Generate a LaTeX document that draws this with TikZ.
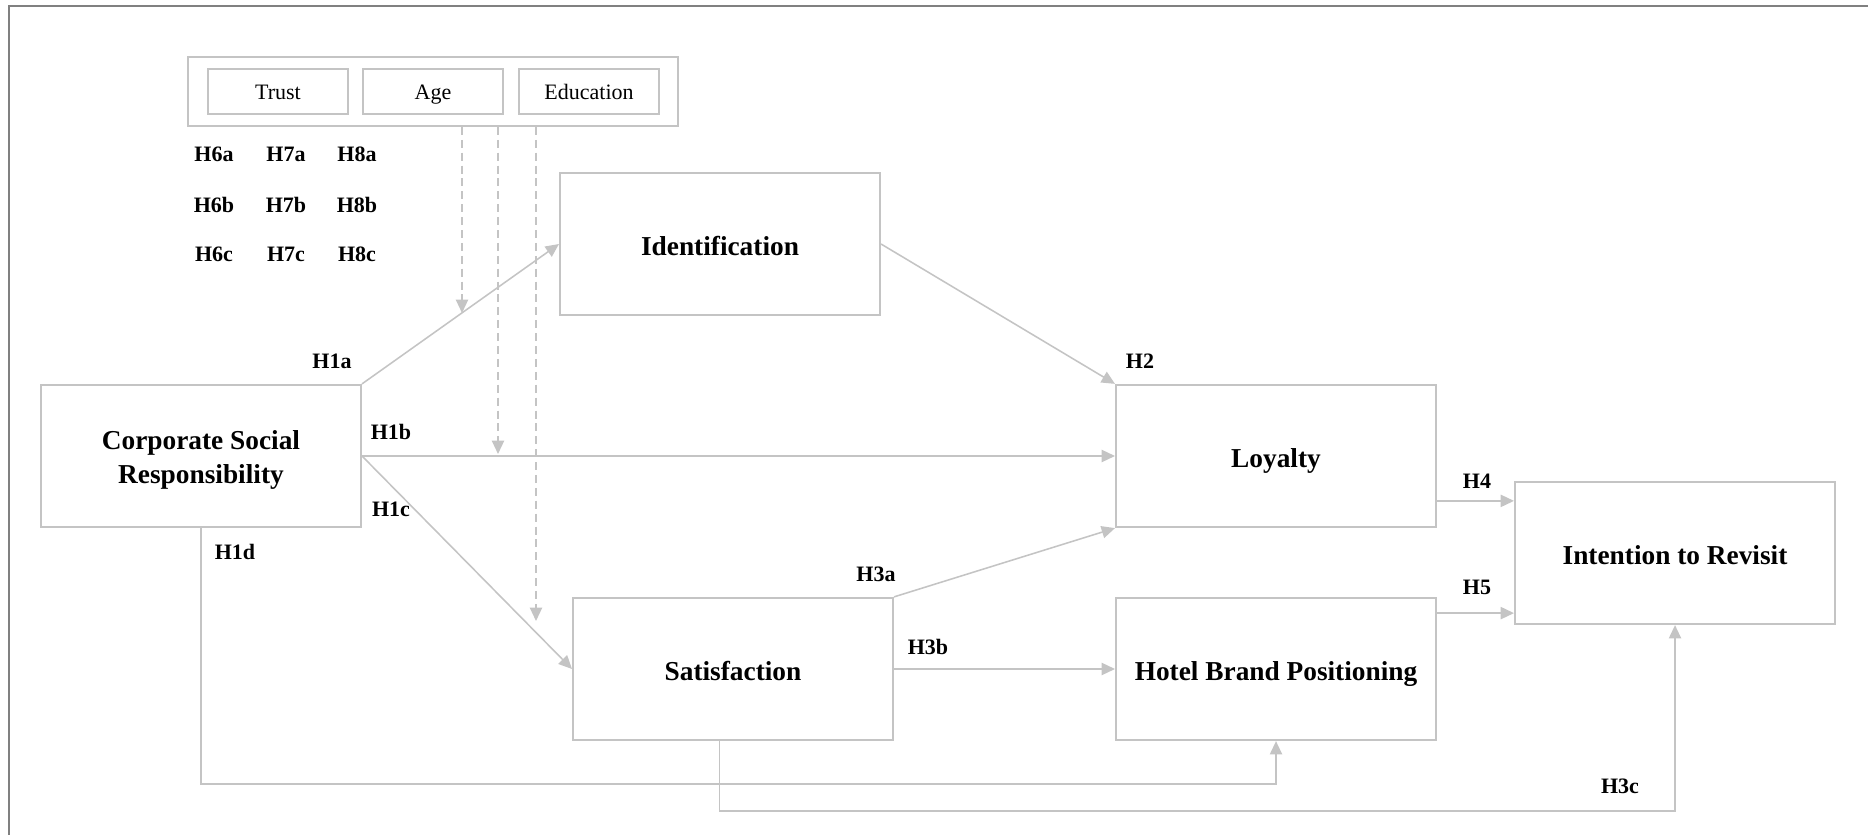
\documentclass[tikz,border=0pt]{standalone}
\usepackage{fontspec}
\setmainfont{Liberation Serif}
\usetikzlibrary{arrows.meta, calc}

\definecolor{boxgray}{RGB}{196,196,196}
\definecolor{framegray}{RGB}{128,128,128}

\tikzset{
    construct/.style={draw=boxgray, line width=0.9pt, minimum width=144pt, minimum height=64pt,
        align=center, text height=10.7pt, text depth=0pt, font=\fontsize{12.3}{15}\selectfont\bfseries},
    modbox/.style={draw=boxgray, line width=0.9pt, minimum width=63pt, minimum height=20pt,
        text height=7.6pt, text depth=0pt, font=\fontsize{9.9}{12}\selectfont},
    hyp/.style={font=\fontsize{9.9}{12}\selectfont\bfseries, inner sep=0pt},
    arr/.style={draw=boxgray, line width=0.7pt, -{Triangle[length=6pt, width=5.5pt]}},
    modarr/.style={arr, dashed, dash pattern=on 3.6pt off 2.2pt},
}

\begin{document}
\begin{tikzpicture}[x=0.45pt, y=-0.45pt]
        \useasboundingbox (0,0) rectangle (1868,835);
        \draw[framegray, line width=1pt] (9,835) -- (9,6) -- (1868,6);

        % moderators
        \node[draw=boxgray, line width=0.9pt, minimum width=220.5pt, minimum height=31pt] at (433,91.5) (mod) {};
        \node[modbox] at (278,91.5) (trust) {Trust};
        \node[modbox] at (433,91.5) (age) {Age};
        \node[modbox] at (589,91.5) (edu) {Education};

        \node[hyp] at (214,154) (h6a) {H6a};
        \node[hyp] at (286,154) (h7a) {H7a};
        \node[hyp] at (357,154) (h8a) {H8a};
        \node[hyp] at (214,205) (h6b) {H6b};
        \node[hyp] at (286,205) (h7b) {H7b};
        \node[hyp] at (357,205) (h8b) {H8b};
        \node[hyp] at (214,254) (h6c) {H6c};
        \node[hyp] at (286,254) (h7c) {H7c};
        \node[hyp] at (357,254) (h8c) {H8c};

        % constructs
        \node[construct, text height=24.6pt] at (201,456) (csr) {Corporate Social\\Responsibility};
        \node[construct] at (720,244) (ident) {Identification};
        \node[construct] at (1276,456) (loy) {Loyalty};
        \node[construct] at (733,669) (sat) {Satisfaction};
        \node[construct] at (1276,669) (hbp) {Hotel Brand Positioning};
        \node[construct] at (1675,553) (ir) {Intention to Revisit};

        \coordinate (d1) at (462,313);
        \coordinate (d2) at (498,454);
        \coordinate (d3) at (536,621);
        \coordinate (low1) at (0,784);
        \coordinate (low2) at (0,811);
        \coordinate (h4in) at ($(ir.north west)+(0,20)$);
        \coordinate (h5in) at ($(ir.south west)+(0,-12)$);

        \draw[arr] (csr.north east) -- (ident.west);
        \draw[arr] (csr.east) -- (loy.west);
        \draw[arr] (csr.east) -- (sat.west);
        \draw[arr] (csr.south) -- (csr.south |- low1) -| (hbp.south);
        \draw[arr] (ident.east) -- (loy.north west);
        \draw[arr] (sat.north east) -- (loy.south west);
        \draw[arr] (sat.east) -- (hbp.west);
        \draw[arr] ([xshift=-6pt]sat.south) -- ([xshift=-6pt]sat.south |- low2) -| (ir.south);
        \draw[arr] (loy.east |- h4in) -- (h4in);
        \draw[arr] (hbp.east |- h5in) -- (h5in);

        \draw[modarr] (d1 |- mod.south) -- (d1);
        \draw[modarr] (d2 |- mod.south) -- (d2);
        \draw[modarr] (d3 |- mod.south) -- (d3);

        \node[hyp] at (332,361) (h1a) {H1a};
        \node[hyp] at (391,432) (h1b) {H1b};
        \node[hyp] at (391,509) (h1c) {H1c};
        \node[hyp] at (235,552) (h1d) {H1d};
        \node[hyp] at (1140,361) (h2) {H2};
        \node[hyp] at (876,574) (h3a) {H3a};
        \node[hyp] at (928,647) (h3b) {H3b};
        \node[hyp] at (1620,786) (h3c) {H3c};
        \node[hyp] at (1477,481) (h4) {H4};
        \node[hyp] at (1477,587) (h5) {H5};
    \end{tikzpicture}
\end{document}
